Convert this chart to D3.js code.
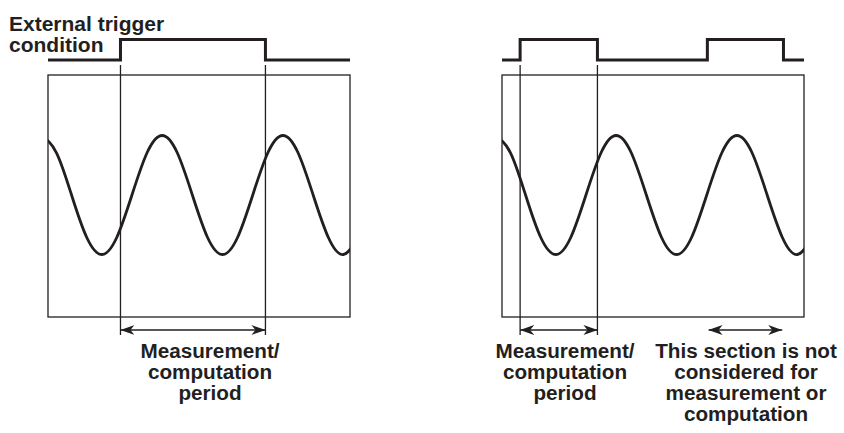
<!DOCTYPE html>
<html><head><meta charset="utf-8">
<script src="https://cdn.jsdelivr.net/npm/d3@7"></script>
<style>body{margin:0;background:#fff}svg{display:block}text{font-family:"Liberation Sans",Arial,sans-serif;font-weight:bold;fill:#231f20}</style>
</head><body>
<svg id="c" width="844" height="433"></svg>
<script>
// time in signal periods across each panel (wave is clipped to the panel box)
const waveT = [-0.055, 0.07, 0.195, 0.32, 0.445, 0.57, 0.695, 0.82, 0.945, 1.07, 1.195, 1.32, 1.445, 1.57, 1.695, 1.82, 1.945, 2.07, 2.195, 2.32, 2.445, 2.57];
const waveV = [1, 0.71, 0, -0.71, -1, -0.71, 0, 0.71, 1, 0.71, 0, -0.71, -1, -0.71, 0, 0.71, 1, 0.71, 0, -0.71, -1, -0.71];
// trigger condition (edge times, level after edge)
const trigLeftT = [0, 0.6, 1.8, 2.5];
const trigLeftL = [0, 1, 0, 0];
const trigRightT = [0, 0.15, 0.79, 1.7, 2.33, 2.5];
const trigRightL = [0, 1, 0, 1, 0, 0];
// measurement periods (marked by vertical lines) and arrows
const markLeft = [0.6, 1.8];
const markRight = [0.15, 0.79];
const arrowsLeft = [[0.6, 1.8]];
const arrowsRight = [[0.15, 0.79], [1.71, 2.32]];
const titleLines = ["External trigger", "condition"];
const labelMeas = ["Measurement/", "computation", "period"];
const labelNot = ["This section is not", "considered for", "measurement or", "computation"];

const svg = d3.select("#c");
const ink = "#231f20";
const defs = svg.append("defs");
defs.append("marker").attr("id","ah").attr("viewBox","0 0 14 10").attr("refX",14).attr("refY",5)
  .attr("markerWidth",14).attr("markerHeight",10).attr("markerUnits","userSpaceOnUse").attr("orient","auto-start-reverse")
  .append("path").attr("d","M0,0 L14,5 L0,10 L4,5 Z").attr("fill",ink);

const yWave = d3.scaleLinear().domain([-1, 1]).range([254.5, 135.5]);
const yTrig = d3.scaleLinear().domain([0, 1]).range([60, 39.5]);
const boxTop = 75, boxBot = 317, markTop = 65, markBot = 335, arrowY = 330;

function panel(id, x0, trigT, trigL, marks, arrows) {
  const x = d3.scaleLinear().domain([0, 2.5]).range([x0, x0 + 302]);
  const g = svg.append("g");
  defs.append("clipPath").attr("id", "clip" + id).append("rect")
    .attr("x", x(0)).attr("y", boxTop).attr("width", x(2.5) - x(0)).attr("height", boxBot - boxTop);
  g.append("rect").attr("x", x(0)).attr("y", boxTop).attr("width", x(2.5) - x(0)).attr("height", boxBot - boxTop)
    .attr("fill","none").attr("stroke", ink).attr("stroke-width", 1.3);
  const trig = d3.line().x(d => x(d[0])).y(d => yTrig(d[1])).curve(d3.curveStepAfter);
  g.append("path").attr("d", trig(trigT.map((t,i)=>[t, trigL[i]]))).attr("fill","none")
    .attr("stroke", ink).attr("stroke-width", 3);
  const wave = d3.line().x(d => x(d[0])).y(d => yWave(d[1])).curve(d3.curveNatural);
  g.append("path").attr("d", wave(waveT.map((t,i)=>[t, waveV[i]]))).attr("fill","none")
    .attr("clip-path", "url(#clip" + id + ")")
    .attr("stroke", ink).attr("stroke-width", 2.8);
  g.selectAll(".mk").data(marks).enter().append("line")
    .attr("x1", d=>x(d)).attr("x2", d=>x(d)).attr("y1", markTop).attr("y2", markBot)
    .attr("stroke", ink).attr("stroke-width", 1.3);
  g.selectAll(".ar").data(arrows).enter().append("line")
    .attr("x1", d=>x(d[0])).attr("x2", d=>x(d[1])).attr("y1", arrowY).attr("y2", arrowY)
    .attr("stroke", ink).attr("stroke-width", 1.5)
    .attr("marker-start","url(#ah)").attr("marker-end","url(#ah)");
}
panel("L", 48, trigLeftT, trigLeftL, markLeft, arrowsLeft);
panel("R", 502, trigRightT, trigRightL, markRight, arrowsRight);

function label(lines, cx, y0, anchor) {
  const t = svg.append("text").attr("font-size", 20.7).attr("text-anchor", anchor);
  lines.forEach((s,i)=> t.append("tspan").attr("x", cx).attr("y", y0 + i*21).text(s));
}
svg.append("text").attr("font-size", 21).attr("text-anchor","start")
  .selectAll("tspan").data(titleLines).enter().append("tspan")
  .attr("x", 9).attr("y", (d,i)=>31 + i*21).text(d=>d);
label(labelMeas, 210, 358, "middle");
label(labelMeas, 565, 358, "middle");
label(labelNot, 746, 358, "middle");
</script>
</body></html>
